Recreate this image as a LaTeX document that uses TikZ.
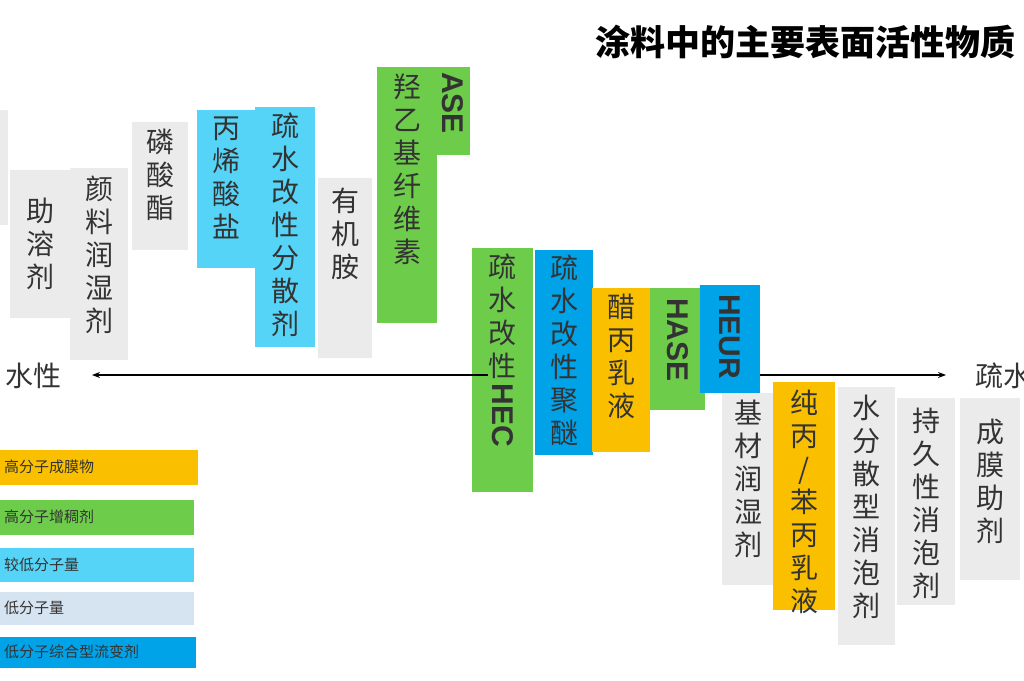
\documentclass[tikz,border=0pt]{standalone}
\usepackage{fontspec}
\setmainfont{Liberation Sans}
\newfontfamily\cjk{Noto Sans CJK SC}
\usetikzlibrary{arrows.meta}
\definecolor{tgray}{HTML}{EBEBEB}
\definecolor{tlblue}{HTML}{55D4F7}
\definecolor{tgreen}{HTML}{6DCC4A}
\definecolor{torange}{HTML}{FAC000}
\definecolor{tblue}{HTML}{00A2E8}
\definecolor{tpale}{HTML}{D6E3F0}
\definecolor{ttext}{HTML}{333333}
\tikzset{
  tiletext/.style={anchor=north, inner sep=0pt, align=center, text=ttext,
    font=\cjk\fontsize{28}{33}\selectfont},
  latintext/.style={anchor=north, inner sep=0pt, text=ttext,
    font=\bfseries\fontsize{30}{33}\selectfont},
  legendbox/.style={anchor=west, inner sep=0pt, text=ttext, minimum height=34pt,
    text width=194pt, font=\cjk\fontsize{15}{16}\selectfont}
}
% tile: name, x1, y1, x2, y2, colour, text top, text
\newcommand{\tile}[8]{%
  \fill[#6] (#2,#3) rectangle (#4,#5);
  \node[tiletext] (#1) at ({(#2+#4)/2},#7) {#8};
}
\newcommand{\rot}[1]{\rotatebox{-90}{#1}}
\begin{document}
\begin{tikzpicture}[x=1pt,y=-1pt]
\clip (0,0) rectangle (1024,680);
\fill[white] (0,0) rectangle (1024,680);

%% title
\node[anchor=east, inner sep=0pt, font=\cjk\bfseries\fontsize{35}{40}\selectfont] (title) at (1016,42) {涂料中的主要表面活性物质};

%% upper tiles
\fill[tgray] (0,110) rectangle (8,225);
\tile{zrj}{10}{170}{70}{318}{tgray}{198}{助\\溶\\剂}
\tile{ylrsj}{70}{168}{128}{360}{tgray}{176}{颜\\料\\润\\湿\\剂}
\tile{lsz}{132}{122}{188}{250}{tgray}{129}{磷\\酸\\酯}
\tile{bxsy}{197}{110}{256}{268}{tlblue}{117}{丙\\烯\\酸\\盐}
\tile{sxfsj}{255}{107}{315}{347}{tlblue}{113}{疏\\水\\改\\性\\分\\散\\剂}
\tile{yja}{318}{178}{372}{358}{tgray}{188}{有\\机\\胺}
\tile{hyj}{377}{67}{437}{323}{tgreen}{74}{羟\\乙\\基\\纤\\维\\素}
\fill[tgreen] (437,67) rectangle (470,155);
\node[latintext] (ase) at (453,72) {\rot{ASE}};

%% middle tiles
\tile{hec}{472}{248}{533}{492}{tgreen}{254}{疏\\水\\改\\性}
\node[latintext, below=4pt] (hecl) at (hec.south) {\rot{HEC}};
\tile{sxjm}{535}{250}{593}{455}{tblue}{255}{疏\\水\\改\\性\\聚\\醚}
\tile{cbry}{592}{288}{650}{452}{torange}{294}{醋\\丙\\乳\\液}
\fill[tgreen] (650,288) rectangle (705,410);
\node[latintext] (hase) at (678,298) {\rot{HASE}};
\fill[tblue] (700,285) rectangle (760,393);
\node[latintext] (heur) at (730,294) {\rot{HEUR}};

%% lower tiles
\tile{jcrsj}{722}{393}{775}{585}{tgray}{400}{基\\材\\润\\湿\\剂}
\tile{cbbry}{773}{382}{835}{610}{torange}{390}{纯\\丙\\/\\苯\\丙\\乳\\液}
\tile{sfsxpj}{838}{387}{895}{645}{tgray}{395}{水\\分\\散\\型\\消\\泡\\剂}
\tile{cjxxpj}{897}{398}{955}{605}{tgray}{408}{持\\久\\性\\消\\泡\\剂}
\tile{cmzj}{960}{398}{1020}{580}{tgray}{419}{成\\膜\\助\\剂}

%% axis
\node[anchor=west, inner sep=0pt, text=ttext, font=\cjk\fontsize{28}{30}\selectfont] (hydrophil) at (5,376) {水性};
\node[anchor=west, inner sep=0pt, text=ttext, font=\cjk\fontsize{28}{30}\selectfont] (hydrophob) at (975,376) {疏水};
\coordinate (axl) at (92,375);
\coordinate (axr) at (946,375);
\coordinate (axm) at (760,375);
\draw[black, line width=1.2pt, {Stealth[length=8pt]}-] (axl) -- (hec.west |- axl);
\draw[black, line width=1.2pt, -{Stealth[length=8pt]}] (axm) -- (axr);

%% legend
\fill[torange] (0,450) rectangle (198,485);
\node[legendbox] (lg1) at (4,467) {高分子成膜物};
\fill[tgreen] (0,500) rectangle (194,535);
\node[legendbox] (lg2) at (4,517) {高分子增稠剂};
\fill[tlblue] (0,548) rectangle (194,582);
\node[legendbox] (lg3) at (4,565) {较低分子量};
\fill[tpale] (0,592) rectangle (194,625);
\node[legendbox] (lg4) at (4,608) {低分子量};
\fill[tblue] (0,637) rectangle (196,668);
\node[legendbox] (lg5) at (4,652) {低分子综合型流变剂};

\end{tikzpicture}
\end{document}
